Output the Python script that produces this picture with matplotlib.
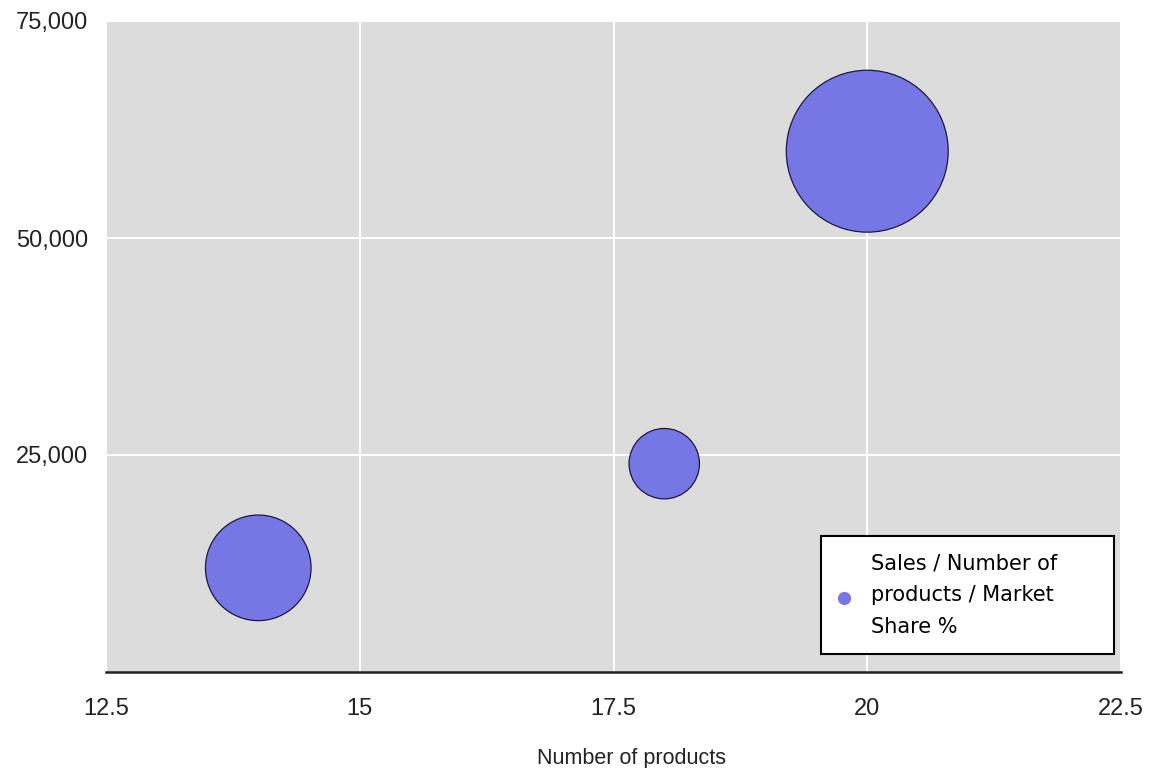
import matplotlib.pyplot as plt
import numpy as np
from matplotlib.ticker import FuncFormatter

# data
products = [14, 18, 20]
sales = [12000, 24000, 60000]
market_share = [15, 10, 23]
x_ticks = [12.5, 15, 17.5, 20, 22.5]
y_ticks = [25000, 50000, 75000]
series_label = "Sales / Number of      \nproducts / Market\nShare %"

BUBBLE_COLOR = "#7676e4"
PX_PER_SHARE = 3.52  # bubble radius in pixels per share point

fig = plt.figure(figsize=(11.62, 7.68), dpi=100)
ax = fig.add_axes([106 / 1162, 96 / 768, 1015 / 1162, 651 / 768])
ax.set_facecolor("#dcdcdc")

# scatter size is in points^2: diameter px -> points at 100 dpi
radius_pt = np.array(market_share) * PX_PER_SHARE * 0.72
sizes = (2 * radius_pt) ** 2
ax.scatter(products, sales, s=sizes, color=BUBBLE_COLOR, edgecolors="#1a1a40",
           linewidths=0.9, zorder=3, label=series_label)

ax.set_xlim(12.5, 22.5)
ax.set_ylim(0, 75000)
ax.set_xticks(x_ticks)
ax.set_yticks(y_ticks)
ax.xaxis.set_major_formatter(FuncFormatter(lambda v, p: f"{v:g}"))
ax.yaxis.set_major_formatter(FuncFormatter(lambda v, p: f"{int(v):,}"))
ax.grid(True, color="white", linewidth=1.4, zorder=1)
ax.set_axisbelow(True)

for side in ["left", "right", "top"]:
    ax.spines[side].set_visible(False)
ax.spines["bottom"].set_color("#222222")
ax.spines["bottom"].set_linewidth(1.8)

ax.tick_params(axis="both", length=0, labelsize=17, colors="#222222")
ax.tick_params(axis="x", pad=19)
ax.tick_params(axis="y", pad=13)
for lbl in ax.get_xticklabels() + ax.get_yticklabels():
    lbl.set_family("Liberation Sans")

ax.set_xlabel("Number of products", fontsize=15.5, family="Liberation Sans",
              color="#222222")
ax.xaxis.set_label_coords(0.518, -0.117)

leg = ax.legend(loc="lower right", bbox_to_anchor=(0.993, 0.028), borderaxespad=0,
                fancybox=False, frameon=True, edgecolor="black", facecolor="white",
                framealpha=1, prop={"family": "DejaVu Sans", "size": 15},
                handlelength=0.6, handletextpad=1.0, borderpad=0.8, markerscale=1)
leg.get_frame().set_linewidth(1.5)
leg.legend_handles[0].set_sizes([90])
leg.legend_handles[0].set_linewidth(0)
for t in leg.get_texts():
    t.set_linespacing(1.75)

fig.savefig("out.png", dpi=100)
